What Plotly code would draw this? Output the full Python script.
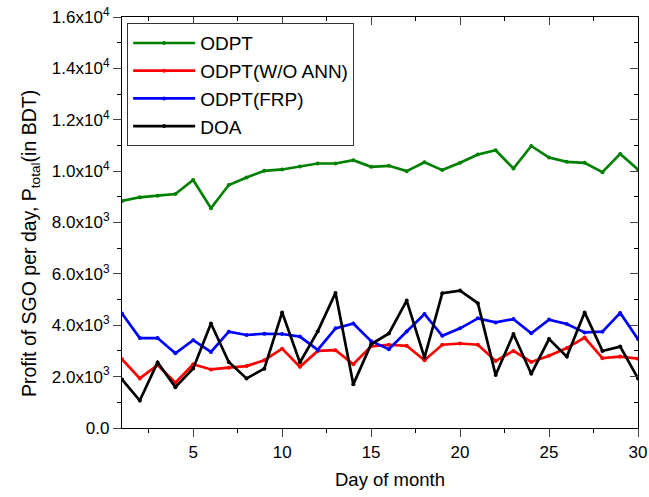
import plotly.graph_objects as go

days = list(range(1, 31))
odpt = [8839, 8981, 9045, 9110, 9652, 8555, 9458, 9755, 10013, 10065,
        10181, 10297, 10297, 10426, 10168, 10206, 10000, 10348, 10039, 10323,
        10645, 10813, 10103, 10981, 10529, 10361, 10323, 9961, 10671, 10065]
odpt_wo_ann = [2680, 1930, 2450, 1760, 2480, 2280, 2350, 2410, 2640, 3090,
               2380, 3000, 3030, 2480, 3180, 3240, 3200, 2640, 3240, 3290,
               3240, 2610, 3000, 2570, 2810, 3110, 3520, 2720, 2780, 2700]
odpt_frp = [4460, 3500, 3500, 2910, 3420, 2960, 3750, 3620, 3670, 3660,
            3560, 3040, 3880, 4070, 3380, 3070, 3760, 4440, 3590, 3880,
            4270, 4110, 4240, 3690, 4220, 4050, 3720, 3750, 4480, 3460]
doa = [1890, 1070, 2550, 1590, 2320, 4070, 2570, 1930, 2310, 4500,
       2550, 3760, 5260, 1700, 3260, 3680, 4960, 2740, 5250, 5350,
       4860, 2060, 3660, 2110, 3460, 2780, 4500, 3000, 3170, 1930]

series = [("ODPT", odpt, "#008000"),
          ("ODPT(W/O ANN)", odpt_wo_ann, "#ff0000"),
          ("ODPT(FRP)", odpt_frp, "#0000ff"),
          ("DOA", doa, "#000000")]

y_tickvals = [0, 2000, 4000, 6000, 8000, 10000, 12000, 14000, 16000]
y_ticktext = ["0.0", "2.0x10<sup>3</sup>", "4.0x10<sup>3</sup>", "6.0x10<sup>3</sup>",
              "8.0x10<sup>3</sup>", "1.0x10<sup>4</sup>", "1.2x10<sup>4</sup>",
              "1.4x10<sup>4</sup>", "1.6x10<sup>4</sup>"]
x_tickvals = [5, 10, 15, 20, 25, 30]
x_title = "Day of month"
y_title = "Profit of SGO per day, P<sub>total</sub>(in BDT)"

fig = go.Figure()
for name, vals, col in series:
    fig.add_trace(go.Scatter(x=days, y=vals, name=name, mode="lines+markers",
                             line=dict(color=col, width=2.7),
                             marker=dict(color=col, size=4)))
# invisible trace to activate the mirrored (inside-tick) top/right axes
fig.add_trace(go.Scatter(x=days, y=odpt, xaxis="x2", yaxis="y2", mode="lines",
                         line=dict(color="rgba(0,0,0,0)"), showlegend=False,
                         hoverinfo="skip"))

font_family = "Liberation Sans, Arial, sans-serif"
fig.update_layout(
    width=649, height=497,
    margin=dict(l=122, r=11, t=17, b=69),
    paper_bgcolor="white", plot_bgcolor="white",
    font=dict(family=font_family, color="black", size=17),
    showlegend=True,
    legend=dict(x=0.01, y=0.985, xanchor="left", yanchor="top",
                bordercolor="#333333", borderwidth=1, bgcolor="white",
                font=dict(size=19, family=font_family), tracegroupgap=0,
                itemwidth=62),
    xaxis=dict(range=[1, 30], tickvals=x_tickvals, ticks="outside", ticklen=8,
               tickwidth=1.2, linecolor="black", linewidth=1.2, showgrid=False,
               zeroline=False, tickfont=dict(size=17), automargin=False,
               minor=dict(dtick=2.5, tick0=0, ticks="outside", ticklen=4,
                          tickcolor="black")),
    yaxis=dict(range=[0, 16000], tickvals=y_tickvals, ticktext=y_ticktext,
               ticks="outside", ticklen=8, tickwidth=1.2, linecolor="black",
               linewidth=1.2, showgrid=False, zeroline=False, automargin=False,
               tickfont=dict(size=17),
               minor=dict(dtick=1000, tick0=0, ticks="outside", ticklen=4,
                          tickcolor="black")),
    xaxis2=dict(range=[1, 30], overlaying="x", side="top", anchor="y",
                tickvals=x_tickvals, ticks="inside", ticklen=8, tickwidth=1.2,
                showticklabels=False, linecolor="black", linewidth=1.2,
                showgrid=False, zeroline=False, showline=True,
                minor=dict(dtick=2.5, tick0=0, ticks="inside", ticklen=4,
                           tickcolor="black")),
    yaxis2=dict(range=[0, 16000], overlaying="y", side="right", anchor="x",
                tickvals=y_tickvals, ticks="inside", ticklen=8, tickwidth=1.2,
                showticklabels=False, linecolor="black", linewidth=1.2,
                showgrid=False, zeroline=False, showline=True,
                minor=dict(dtick=1000, tick0=0, ticks="inside", ticklen=4,
                           tickcolor="black")),
    annotations=[
        dict(text=x_title, xref="paper", yref="paper", x=0.519, y=-0.1265,
             xanchor="center", yanchor="middle", showarrow=False,
             font=dict(size=18.5)),
        dict(text=y_title, xref="paper", yref="paper", x=-0.1783, y=0.45,
             xanchor="center", yanchor="middle", showarrow=False,
             textangle=-90, font=dict(size=19.5)),
    ],
)

fig.write_html("out.html")
